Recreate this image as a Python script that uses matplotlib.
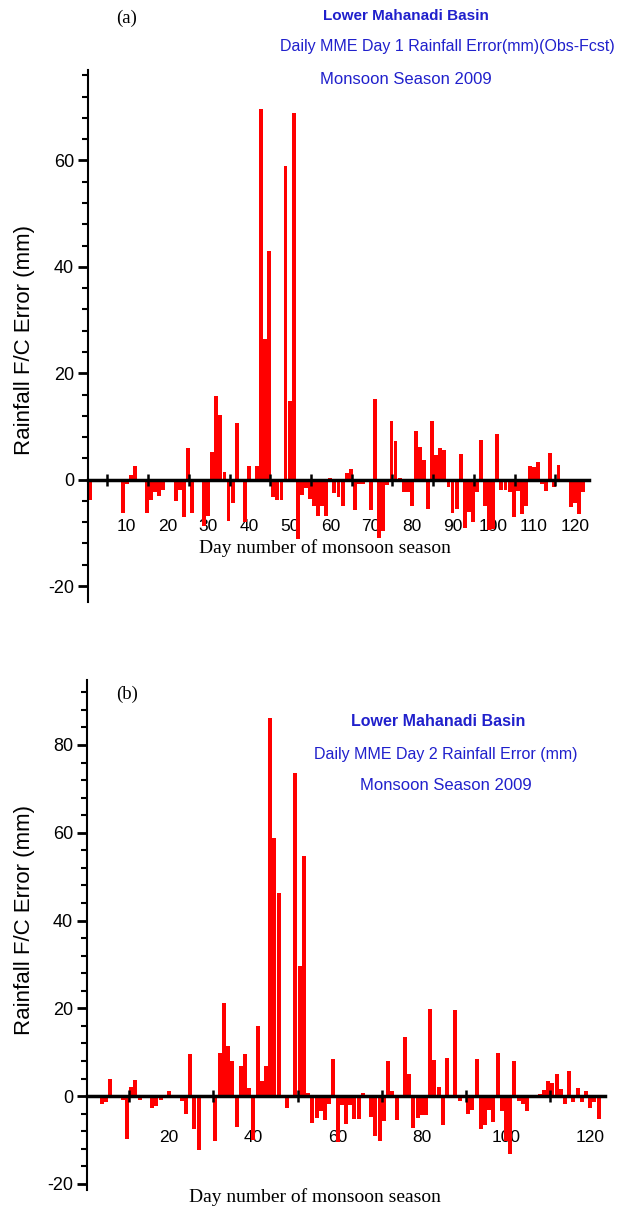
import numpy as np
import matplotlib.pyplot as plt
from matplotlib.ticker import MultipleLocator

plt.rcParams['font.family'] = ['Liberation Sans Narrow', 'Liberation Sans', 'DejaVu Sans']
plt.rcParams['axes.unicode_minus'] = False

# day of the monsoon season (1 June = day 1)
days = np.arange(1, 123)

# Day 1 MME forecast error (obs - fcst), mm
day1_error = [
    -3.8, 0, -0.4, -0.5, 0, 0, 0, -0.3, -6.2, -0.8,
    0.8, 2.5, 0, 0, -6.3, -3.8, -2.4, -3.0, -1.9, 0,
    0, -4.0, -1.9, -7.1, 6.0, -6.2, 0, 0, -8.8, -6.8,
    5.2, 15.8, 12.1, 1.5, -7.7, -4.4, 10.7, 0, -7.9, 2.6,
    0, 2.5, 69.7, 26.4, 43.0, -3.3, -3.8, -3.8, 59.0, 14.8,
    69.0, -11.2, -2.8, -1.6, -3.6, -4.9, -6.9, -4.9, -6.9, 0.3,
    -2.6, -3.3, -4.9, 1.2, 2.0, -5.8, -0.8, -0.8, 0, -5.7,
    15.2, -11.0, -9.7, -1.0, 11.0, 7.2, 0.4, -2.4, -2.4, -4.9,
    9.2, 6.1, 3.7, -5.6, 11.1, 4.7, 6.0, 5.5, -1.3, -6.3,
    -5.5, 4.8, -9.0, -6.0, -7.9, -2.4, 7.4, -4.9, -9.5, -9.2,
    8.5, -1.9, -1.9, -2.3, -7.0, -2.1, -6.5, -5.0, 2.5, 2.3,
    3.3, -0.8, -2.2, 5.0, -1.3, 2.8, 0, 0, -5.1, -4.4,
    -6.4, -2.4,
]

# Day 2 MME forecast error, mm
day2_error = [
    0, -0.2, -0.2, -1.7, -1.3, 3.8, 0, 0, -0.9, -9.8,
    2.1, 3.7, -0.9, 0, 0, -2.7, -2.3, -0.8, -0.5, 1.1,
    0, 0, -1.1, -4.0, 9.6, -7.6, -12.2, 0, 0, 0,
    -10.2, 9.8, 21.3, 11.3, 7.9, -7.0, 6.9, 9.6, 1.9, -9.9,
    16.0, 3.4, 6.9, 86.2, 58.8, 46.2, 0, -2.8, 0, 73.7,
    29.6, 54.6, 0.8, -6.1, -5.0, -3.4, -5.5, -1.8, 8.4, -10.5,
    -2.1, -6.4, -2.0, -5.3, -5.3, 0.6, -0.5, -4.7, -9.1, -10.2,
    -5.7, 8.1, 1.2, -5.5, 0, 13.4, 5.0, -7.2, -5.1, -4.4,
    -4.4, 19.8, 8.2, 2.1, -6.6, 8.6, -0.5, 19.7, -1.1, 0,
    -4.0, -3.2, 8.5, -7.6, -6.6, -3.2, -5.9, 9.8, -3.4, -10.2,
    -13.1, 8.0, -1.1, -1.9, -3.4, -0.5, 0.3, 0.4, 1.4, 3.4,
    2.9, 5.0, 1.5, -1.7, 5.8, -1.3, 1.9, -1.3, 1.1, -2.7,
    -1.3, -5.3,
]

W, H = 623, 1213
BLUE = '#2020cc'
fig = plt.figure(figsize=(W / 100, H / 100), dpi=100)


def box(left, top, right, bottom):
    return [left / W, 1 - bottom / H, (right - left) / W, (bottom - top) / H]


def panel(ax, values, ylim, zero_ticks, label_ticks, label_loc):
    ax.bar(days, values, width=0.95, color='#ff0000', linewidth=0)
    ax.set_xlim(0.5, 123.5)
    ax.set_ylim(*ylim)
    ax.spines['top'].set_visible(False)
    ax.spines['right'].set_visible(False)
    ax.spines['bottom'].set_position(('data', 0))
    ax.spines['bottom'].set_linewidth(2.5)
    ax.spines['left'].set_linewidth(1.5)
    ax.set_xticks(zero_ticks)
    ax.tick_params(axis='x', direction='inout', length=9, width=1.8, labelbottom=False)
    ax.yaxis.set_major_locator(MultipleLocator(20))
    ax.yaxis.set_minor_locator(MultipleLocator(4))
    ax.tick_params(axis='y', which='major', length=7, width=2, labelsize=13, pad=3)
    ax.tick_params(axis='y', which='minor', length=4, width=1.5)
    # day labels sit low in the axes, away from the zero line
    sec = ax.secondary_xaxis(label_loc)
    sec.set_xticks(label_ticks)
    sec.tick_params(length=0, labelsize=12.5, pad=0)
    sec.spines['bottom'].set_visible(False)


ax_a = fig.add_axes(box(88, 70, 589, 602))
panel(ax_a, day1_error, (-23, 77), np.arange(5, 120, 10) + 0.25,
      np.arange(10, 121, 10), 0.156)

ax_b = fig.add_axes(box(87, 680, 605, 1190))
panel(ax_b, day2_error, (-21.4, 94.8), np.arange(10, 120, 20) + 0.5,
      np.arange(20, 121, 20), 0.118)

serif = 'Liberation Serif'
sans = 'Liberation Sans'

# panel (a) headings
fig.text(127 / W, 1 - 18 / H, '(a)', family=serif, fontsize=13.5,
         ha='center', va='center')
fig.text(406 / W, 1 - 16 / H, 'Lower Mahanadi Basin', color=BLUE, fontsize=11,
         weight='bold', ha='center', va='center')
fig.text(447 / W, 1 - 47 / H, 'Daily MME Day 1 Rainfall Error(mm)(Obs-Fcst)',
         color=BLUE, fontsize=11.5, ha='center', va='center')
fig.text(406 / W, 1 - 80 / H, 'Monsoon Season 2009', color=BLUE, fontsize=12,
         ha='center', va='center')
fig.text(325 / W, 1 - 548 / H, 'Day number of monsoon season',
         family=serif, fontsize=14, ha='center', va='center')
fig.text(25 / W, 1 - 340 / H, 'Rainfall F/C Error (mm)', family=sans,
         fontsize=16, rotation=90, ha='center', va='center')

# panel (b) headings
fig.text(127 / W, 1 - 694 / H, '(b)', family=serif, fontsize=13.5,
         ha='center', va='center')
fig.text(438 / W, 1 - 722 / H, 'Lower Mahanadi Basin', color=BLUE, fontsize=11.5,
         weight='bold', ha='center', va='center')
fig.text(446 / W, 1 - 754 / H, 'Daily MME Day 2 Rainfall Error (mm)',
         color=BLUE, fontsize=11.5, ha='center', va='center')
fig.text(446 / W, 1 - 786 / H, 'Monsoon Season 2009', color=BLUE, fontsize=12,
         ha='center', va='center')
fig.text(315 / W, 1 - 1197 / H, 'Day number of monsoon season',
         family=serif, fontsize=14, ha='center', va='center')
fig.text(25 / W, 1 - 920 / H, 'Rainfall F/C Error (mm)', family=sans,
         fontsize=16, rotation=90, ha='center', va='center')

fig.savefig('out.png', dpi=100)
